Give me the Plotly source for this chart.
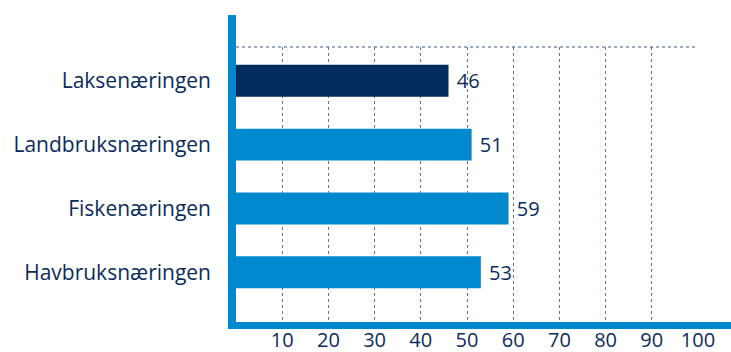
import plotly.graph_objects as go

# Share of respondents per industry (percent)
categories = ["Laksenæringen", "Landbruksnæringen", "Fiskenæringen", "Havbruksnæringen"]
values = [46, 51, 59, 53]
bar_colors = ["#022B5E", "#0089CF", "#0089CF", "#0089CF"]
x_ticks = [10, 20, 30, 40, 50, 60, 70, 80, 90, 100]

TEXT = "#0C2C5C"
BLUE = "#0089CF"
FONT = "Open Sans"

fig = go.Figure(
    go.Bar(
        y=categories,
        x=values,
        orientation="h",
        marker=dict(color=bar_colors, line=dict(width=0)),
        width=0.5,
        text=values,
        texttemplate=" %{text}",
        textposition="outside",
        textfont=dict(family=FONT, size=20, color=TEXT),
        cliponaxis=False,
    )
)

fig.update_layout(
    width=731,
    height=352,
    margin=dict(l=236, r=33, t=47, b=30),
    paper_bgcolor="white",
    plot_bgcolor="white",
    showlegend=False,
    font=dict(family=FONT, color=TEXT, size=20),
    xaxis=dict(
        range=[0, 100],
        tickvals=x_ticks,
        ticktext=[str(v) for v in x_ticks],
        showgrid=True,
        gridcolor="#5E7596",
        griddash="dot",
        gridwidth=1,
        zeroline=False,
        showline=False,
        ticks="",
        automargin=False,
        ticklabelstandoff=4,
        tickfont=dict(family=FONT, size=20, color=TEXT),
    ),
    yaxis=dict(
        autorange=False,
        range=[3.78, -0.53],
        categoryorder="array",
        categoryarray=categories,
        showgrid=False,
        zeroline=False,
        showline=False,
        ticks="",
        automargin=False,
        ticklabelstandoff=24,
        tickfont=dict(family=FONT, size=21, color=TEXT),
    ),
    shapes=[
        # dotted frame line along the top of the plot area
        dict(type="line", xref="x", yref="paper", x0=0, x1=100, y0=1, y1=1,
             line=dict(color="#3D5A80", width=1, dash="dot")),
        # thick left axis bar
        dict(type="rect", xref="paper", yref="paper", x0=-8 / 462, x1=0,
             y0=-7 / 275, y1=1 + 32 / 275, fillcolor=BLUE, line=dict(width=0),
             layer="above"),
        # thick bottom axis bar
        dict(type="rect", xref="paper", yref="paper", x0=-8 / 462, x1=1 + 33 / 462,
             y0=-7 / 275, y1=0, fillcolor=BLUE, line=dict(width=0),
             layer="above"),
    ],
)

fig.write_html("out.html")
